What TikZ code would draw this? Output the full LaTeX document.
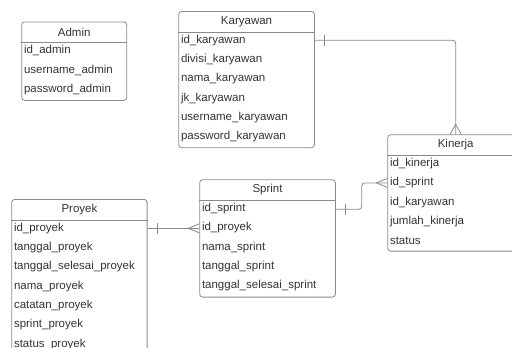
\documentclass[tikz,border=0pt]{standalone}
\usepackage{fontspec}
\setmainfont{Liberation Sans}
\usetikzlibrary{positioning}
\definecolor{garis}{HTML}{8A8A8A}
\definecolor{tulisan}{HTML}{333333}

\begin{document}
\begin{tikzpicture}[x=1pt,y=-1pt,
  font=\fontsize{11.5}{13}\selectfont,text=tulisan,
  tabel/.style={draw=garis,line width=0.8pt,rounded corners=3pt,anchor=north west,inner sep=0pt},
  baris/.style={anchor=west,inner sep=0pt},
  relasi/.style={draw=garis,line width=0.8pt,rounded corners=3pt}]
\useasboundingbox (0,0) rectangle (512,348);
\clip (0,0) rectangle (512,348);

% Admin
\node[tabel,minimum width=105pt,minimum height=78.5pt] (admin) at (21.3,21.5) {};
\node (admin-j) at ([yshift=-10.5pt]admin.north) {Admin};
\draw[relasi] ([yshift=-21pt]admin.north west) -- ([yshift=-21pt]admin.north east);
\foreach \f [count=\i] in {id\_admin,username\_admin,password\_admin}
  \node[baris] (adm-\i) at ([xshift=2.5pt,yshift={-29.3pt-(\i-1)*19.3pt}]admin.north west) {\f};

% Karyawan
\node[tabel,minimum width=135.7pt,minimum height=136.3pt] (karyawan) at (178.3,11) {};
\node (karyawan-j) at ([yshift=-10.5pt]karyawan.north) {Karyawan};
\draw[relasi] ([yshift=-21pt]karyawan.north west) -- ([yshift=-21pt]karyawan.north east);
\foreach \f [count=\i] in {id\_karyawan,divisi\_karyawan,nama\_karyawan,jk\_karyawan,username\_karyawan,password\_karyawan}
  \node[baris] (kar-\i) at ([xshift=2.5pt,yshift={-29.3pt-(\i-1)*19.3pt}]karyawan.north west) {\f};

% Kinerja
\node[tabel,minimum width=136pt,minimum height=116.4pt] (kinerja) at (387.3,134.3) {};
\node (kinerja-j) at ([yshift=-10.5pt]kinerja.north) {Kinerja};
\draw[relasi] ([yshift=-21pt]kinerja.north west) -- ([yshift=-21pt]kinerja.north east);
\foreach \f [count=\i] in {id\_kinerja,id\_sprint,id\_karyawan,jumlah\_kinerja,status}
  \node[baris] (kin-\i) at ([xshift=2.5pt,yshift={-29.3pt-(\i-1)*19.3pt}]kinerja.north west) {\f};

% Sprint
\node[tabel,minimum width=135.7pt,minimum height=117.4pt] (sprint) at (199.3,179.3) {};
\node (sprint-j) at ([yshift=-10.5pt]sprint.north) {Sprint};
\draw[relasi] ([yshift=-21pt]sprint.north west) -- ([yshift=-21pt]sprint.north east);
\foreach \f [count=\i] in {id\_sprint,id\_proyek,nama\_sprint,tanggal\_sprint,tanggal\_selesai\_sprint}
  \node[baris] (spr-\i) at ([xshift=2.5pt,yshift={-29.3pt-(\i-1)*19.3pt}]sprint.north west) {\f};

% Proyek
\node[tabel,minimum width=135.4pt,minimum height=175pt] (proyek) at (11.3,199) {};
\node (proyek-j) at ([yshift=-10.5pt]proyek.north) {Proyek};
\draw[relasi] ([yshift=-21pt]proyek.north west) -- ([yshift=-21pt]proyek.north east);
\foreach \f [count=\i] in {id\_proyek,tanggal\_proyek,tanggal\_selesai\_proyek,nama\_proyek,catatan\_proyek,sprint\_proyek,status\_proyek}
  \node[baris] (pro-\i) at ([xshift=2.5pt,yshift={-29.3pt-(\i-1)*19.3pt}]proyek.north west) {\f};

% relasi
\draw[relasi] (karyawan.east |- kar-1) -| (kinerja.north);
\draw[relasi] ([xshift=10pt]karyawan.east |- kar-1) ++(0,-5.5) -- ++(0,11);
\draw[relasi] ([yshift=10pt]kinerja.north) -- ([xshift=-5.5pt]kinerja.north)
  ([yshift=10pt]kinerja.north) -- ([xshift=5.5pt]kinerja.north);

\draw[relasi] (proyek.east |- pro-1) -- (sprint.west |- pro-1);
\draw[relasi] ([xshift=10pt]proyek.east |- pro-1) ++(0,-5.5) -- ++(0,11);
\draw[relasi] ([xshift=-11pt]sprint.west |- pro-1) -- ([yshift=-4.5pt]sprint.west |- pro-1)
  ([xshift=-11pt]sprint.west |- pro-1) -- ([yshift=4.5pt]sprint.west |- pro-1);

\draw[relasi] ([yshift=-0.7pt]sprint.east |- spr-1) -- ++(26,0) |- (kinerja.west |- kin-2);
\draw[relasi] ([xshift=10pt,yshift=-0.7pt]sprint.east |- spr-1) ++(0,-5.5) -- ++(0,11);
\draw[relasi] ([xshift=-11pt]kinerja.west |- kin-2) -- ([yshift=-4.5pt]kinerja.west |- kin-2)
  ([xshift=-11pt]kinerja.west |- kin-2) -- ([yshift=4.5pt]kinerja.west |- kin-2);
\end{tikzpicture}
\end{document}
